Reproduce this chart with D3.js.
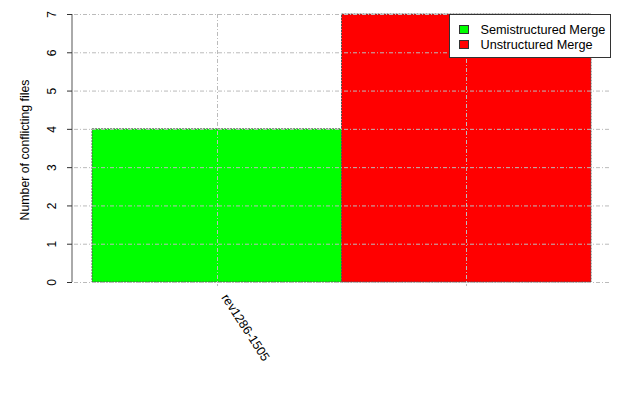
<!DOCTYPE html>
<html><head><meta charset="utf-8">
<script src="https://cdn.jsdelivr.net/npm/d3@7"></script>
<style>body{margin:0;background:#fff}svg{display:block}text{font-family:"Liberation Sans",Arial,sans-serif}</style>
</head><body>
<script>
const categories = ["rev1286-1505"];
const seriesNames = ["Semistructured Merge", "Unstructured Merge"];
const seriesValues = [4, 7];
const seriesColors = ["#00ff00", "#ff0000"];
const yTicks = [0, 1, 2, 3, 4, 5, 6, 7];

const W = 640, H = 400;
const svg = d3.select("body").append("svg").attr("width", W).attr("height", H);

const plotL = 72, plotR = 609, plotT = 14, plotB = 282;
const y = d3.scaleLinear().domain([0, 7]).range([plotB, plotT]);
const xb = d3.scaleBand().domain(seriesNames).range([92, 591]).padding(0);
const catX = d3.scalePoint().domain(categories).range([xb(seriesNames[0]) + xb.bandwidth() / 2, xb(seriesNames[0]) + xb.bandwidth() / 2]);

// bars
svg.append("g").selectAll("rect").data(seriesNames).join("rect")
  .attr("x", d => xb(d)).attr("width", xb.bandwidth())
  .attr("y", (d, i) => y(seriesValues[i])).attr("height", (d, i) => y(0) - y(seriesValues[i]))
  .attr("fill", (d, i) => seriesColors[i])
  .attr("stroke", "#555").attr("stroke-width", 1).attr("stroke-dasharray", "2,1");

// grid (on top)
const grid = svg.append("g").attr("stroke", "#bbb").attr("stroke-width", 1).attr("stroke-dasharray", "4,2,1,2");
grid.selectAll("line.h").data(yTicks).join("line").attr("class", "h")
  .attr("x1", plotL + 2).attr("x2", plotR).attr("y1", d => y(d) + 0.5).attr("y2", d => y(d) + 0.5);
grid.selectAll("line.v").data(seriesNames).join("line").attr("class", "v")
  .attr("x1", d => Math.round(xb(d) + xb.bandwidth() / 2) + 0.5).attr("x2", d => Math.round(xb(d) + xb.bandwidth() / 2) + 0.5)
  .attr("y1", plotT).attr("y2", plotB + 4);

// y axis
const yAxis = d3.axisLeft(y).tickValues(yTicks).tickSize(5).tickFormat(d3.format("d"));
const ga = svg.append("g").attr("transform", `translate(${plotL},0)`).call(yAxis);
ga.select(".domain").attr("stroke", "#aaa").attr("stroke-width", 2).attr("d", `M0,${plotT}V${plotB}`);
ga.selectAll(".tick line").attr("stroke", "#333");
ga.selectAll(".tick text").each(function(d) {
  d3.select(this).attr("x", null).attr("y", null).attr("dy", null)
    .attr("font-size", 12).attr("fill", "#000")
    .attr("transform", `translate(-16,0) rotate(-90)`)
    .attr("text-anchor", "middle");
});

// y label
svg.append("text").attr("transform", `translate(29,150) rotate(-90)`)
  .attr("text-anchor", "middle").attr("font-size", 12.3)
  .text("Number of conflicting files");

// category label
svg.selectAll("text.cat").data(categories).join("text").attr("class", "cat")
  .attr("transform", d => `translate(${catX(d) + 8},${plotB + 13}) rotate(57)`)
  .attr("font-size", 12.5).attr("text-anchor", "start").attr("dy", "0.35em").text(d => d);

// legend
const lg = svg.append("g").attr("transform", "translate(449.5,14.5)");
lg.append("rect").attr("width", 161).attr("height", 43).attr("fill", "#fff").attr("stroke", "#333");
const items = lg.selectAll("g").data(seriesNames).join("g").attr("transform", (d, i) => `translate(0,${i * 15})`);
items.append("rect").attr("x", 10).attr("y", 11).attr("width", 9).attr("height", 8)
  .attr("fill", (d, i) => seriesColors[i]).attr("stroke", "#333");
items.append("text").attr("x", 31).attr("y", 19.5).attr("font-size", 12.7).text(d => d);
</script>
</body></html>
